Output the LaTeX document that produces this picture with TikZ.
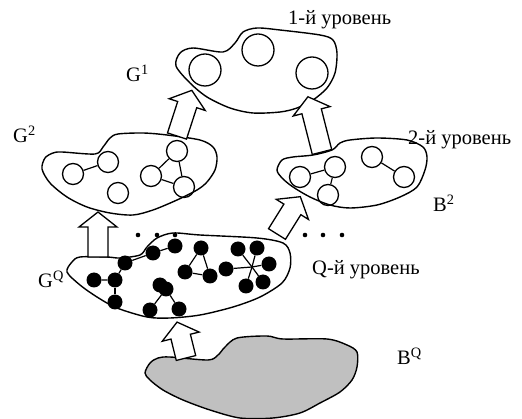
\documentclass[tikz,border=0pt]{standalone}
\usepackage{fontspec}
\setmainfont{Liberation Serif}
\usetikzlibrary{positioning}
\tikzset{
  blob/.style={line width=1.4pt, line join=round},
  ring/.style={circle, draw, line width=1.3pt, inner sep=0pt, minimum size=21pt},
  bigring/.style={ring, minimum size=32pt},
  ball/.style={circle, fill=black, inner sep=0pt, minimum size=15pt},
  link/.style={line width=1.2pt},
  caption/.style={anchor=base west, inner sep=0pt, font=\fontsize{20.5}{22}\selectfont},
  lift/.pic={
    \draw[line width=1.3pt, fill=white, line join=miter]
      (0,-10) -- ({#1-15},-10) -- ({#1-15},-19) -- (#1,0) --
      ({#1-15},19) -- ({#1-15},10) -- (0,10) -- cycle;
  }
}
\begin{document}
\begin{tikzpicture}[x=1pt, y=-1pt]
  \useasboundingbox (0,0) rectangle (522,419);

  % 1. уровень B^Q (серая область)
  \draw[blob, fill={rgb,255:red,192;green,192;blue,192}] plot[smooth cycle, tension=0.5] coordinates {
    (145,373) (150,363) (158,358) (170,357) (208,360) (218,355) (225,347)
    (237,338) (267,336) (283,339) (327,339) (347,345) (357,352) (357,367)
    (352,380) (340,392) (320,403) (300,413) (273,418) (240,418) (210,410)
    (183,400) (163,390) (150,380)};

  % 2. уровень G^Q
  \draw[blob] plot[smooth cycle, tension=0.5] coordinates {
    (67,272) (72,262) (80,257) (107,257) (120,258) (140,255) (147,247)
    (157,238) (173,233) (200,235) (257,238) (283,243) (290,253) (290,268)
    (282,283) (260,297) (233,307) (200,315) (170,318) (147,317) (117,308)
    (97,297) (80,285)};

  % 3. уровень G^2
  \draw[blob] plot[smooth cycle, tension=0.5] coordinates {
    (42,169) (45,158) (53,153) (62,152) (95,154) (103,147) (110,138)
    (118,134) (143,133) (167,135) (200,140) (213,147) (217,157) (215,170)
    (207,182) (197,190) (177,200) (153,210) (133,215) (110,213) (87,207)
    (67,197) (50,183)};

  % 4. уровень B^2
  \draw[blob] plot[smooth cycle, tension=0.5] coordinates {
    (277,170) (282,160) (293,157) (313,155) (332,150) (340,143) (350,140)
    (377,138) (407,140) (423,147) (427,157) (425,170) (417,187) (400,197)
    (377,205) (350,208) (330,205) (310,197) (293,187) (282,178)};

  % 5. уровень G^1
  \draw[blob] plot[smooth cycle, tension=0.5] coordinates {
    (176,66) (180,53) (193,48) (223,52) (235,43) (243,32) (257,28)
    (280,30) (320,35) (333,40) (337,53) (335,73) (327,88) (313,100)
    (297,108) (280,112) (253,113) (230,108) (207,97) (190,83)};

  % вершины G^1
  \node[bigring] (ta) at (258,50) {};
  \node[bigring] (tb) at (205,70) {};
  \node[bigring] (tc) at (312,73) {};

  % вершины G^2
  \node[ring] (ga) at (73,174) {};
  \node[ring] (gb) at (108,162) {};
  \node[ring] (gc) at (118,193) {};
  \node[ring] (gd) at (151,176) {};
  \node[ring] (ge) at (177,151) {};
  \node[ring] (gf) at (184,187) {};
  \draw[link] (ga) -- (gb);
  \draw[link] (gd) -- (ge) -- (gf) -- (gd);

  % вершины B^2
  \node[ring] (ba) at (300,177) {};
  \node[ring] (bb) at (335,167) {};
  \node[ring] (bc) at (328,195) {};
  \node[ring] (bd) at (372,157) {};
  \node[ring] (be) at (404,177) {};
  \draw[link] (ba) -- (bb) -- (bc);
  \draw[link] (bd) -- (be);

  % вершины G^Q
  \node[ball] (qa) at (94,280) {};
  \node[ball] (qb) at (115,280) {};
  \node[ball] (qc) at (115,302) {};
  \node[ball] (qd) at (125,263) {};
  \node[ball] (qe) at (153,253) {};
  \node[ball] (qf) at (175,246) {};
  \node[ball] (qg) at (201,248) {};
  \node[ball] (qh) at (185,272) {};
  \node[ball] (qi) at (210,276) {};
  \node[ball] (qj) at (160,285) {};
  \node[ball] (qk) at (166,289) {};
  \node[ball] (ql) at (150,310) {};
  \node[ball] (qm) at (179,309) {};
  \coordinate (hub) at (252,267);
  \node[ball] (sa) at (238,249) {};
  \node[ball] (sb) at (257,248) {};
  \node[ball] (sc) at (269,264) {};
  \node[ball] (sd) at (263,282) {};
  \node[ball] (se) at (246,286) {};
  \node[ball] (sf) at (226,269) {};
  \draw[link] (qa) -- (qb) -- (qd) -- (qe) -- (qf);
  \draw[link] (qb) -- (qc);
  \draw[link] (qg) -- (qh) -- (qi) -- (qg);
  \draw[link] (qk) -- (ql);
  \draw[link] (qk) -- (qm);
  \foreach \s in {sa,sb,sc,sd,se,sf}
    \draw[link] (hub) -- (\s);

  % многоточия
  \foreach \x in {138,157,175,305,323,342}
    \fill (\x,235) circle (2.3pt);

  % стрелки между уровнями
  \pic[rotate=72] at (177,136) {lift=48};
  \pic[rotate=104.3] at (322,152) {lift=57};
  \pic[rotate=90] at (98,257) {lift=45};
  \pic[rotate=58] at (277,234) {lift=44};
  \pic[rotate=104] at (186,358) {lift=37};

  % подписи
  \node[caption] (lvlone) at (288,25) {1-й уровень};
  \node[caption] (lvltwo) at (408,145) {2-й уровень};
  \node[caption] (lvlq) at (312,275) {Q-й уровень};
  \node[caption] (gone) at (126,82) {G\textsuperscript{1}};
  \node[caption] (gtwo) at (13,143) {G\textsuperscript{2}};
  \node[caption] (gq) at (38,288) {G\textsuperscript{Q}};
  \node[caption] (btwo) at (433,212) {B\textsuperscript{2}};
  \node[caption] (bq) at (397,365) {B\textsuperscript{Q}};
\end{tikzpicture}
\end{document}
